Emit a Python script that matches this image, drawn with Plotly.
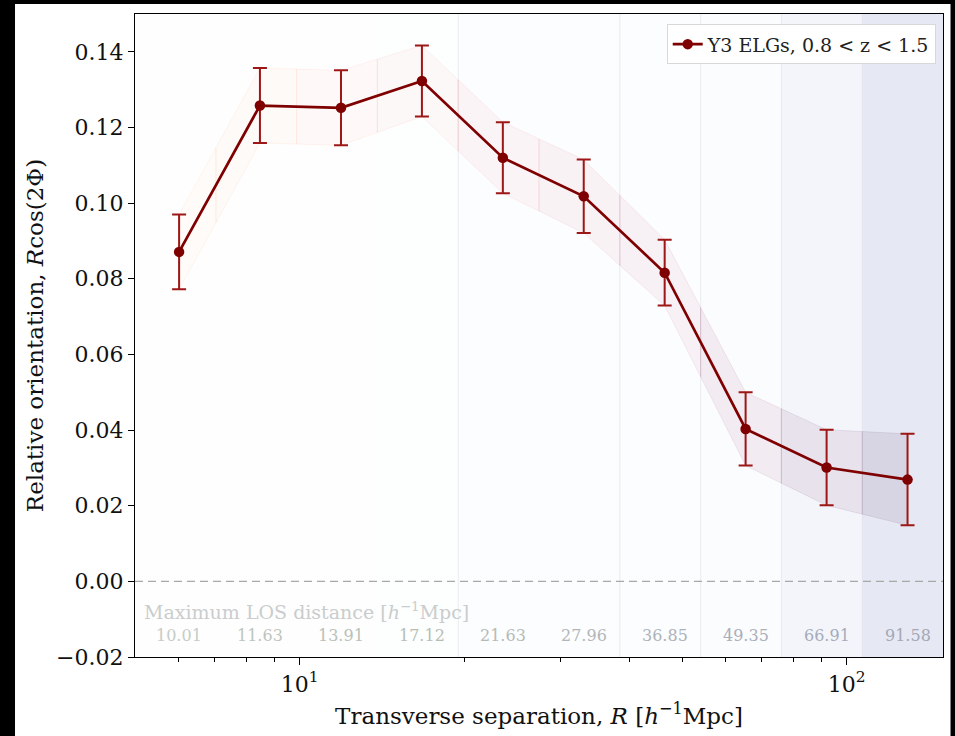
import numpy as np
import plotly.graph_objects as go

# ---- data ----
R = [6.02, 8.46, 11.90, 16.73, 23.52, 33.06, 46.48, 65.35, 91.9, 129.2]
xi = [0.0871, 0.1258, 0.1252, 0.1323, 0.1120, 0.1018, 0.0816, 0.0403, 0.0301, 0.0269]
err = [0.0099, 0.0099, 0.0099, 0.0094, 0.0094, 0.0097, 0.0087, 0.0097, 0.0100, 0.0121]
los_max = ["10.01", "11.63", "13.91", "17.12", "21.63", "27.96", "36.85", "49.35", "66.91", "91.58"]
bin_edges = [5.0, 7.03, 9.87, 13.87, 19.49, 27.39, 38.49, 54.08, 75.98, 106.8, 150.0]
y_ticks = [-0.02, 0.0, 0.02, 0.04, 0.06, 0.08, 0.10, 0.12, 0.14]

# ---- styles ----
bg_colors = ["#fefefe", "#fefefe", "#fefefe", "#fdfefe", "#fcfdfe", "#fcfdfe",
             "#fcfdfe", "#fbfcfe", "#f3f5fb", "#e6e9f3"]
# faint separators drawn on the left edge of these bins
bg_edge_on = [False, False, False, False, True, False, True, True, True, True]
bg_edge = "rgba(205,210,220,0.4)"
band_fill = ["rgba(254,180,120,0.035)", "rgba(252,160,110,0.04)", "rgba(250,150,120,0.045)",
             "rgba(245,130,120,0.05)", "rgba(230,110,125,0.06)", "rgba(210,90,125,0.065)",
             "rgba(185,70,120,0.07)", "rgba(150,55,110,0.085)", "rgba(115,45,100,0.095)",
             "rgba(90,35,90,0.10)"]
band_line = ["rgba(254,170,100,0.12)", "rgba(252,150,100,0.12)", "rgba(250,140,110,0.12)",
             "rgba(245,120,110,0.12)", "rgba(230,100,115,0.12)", "rgba(210,80,120,0.12)",
             "rgba(180,60,120,0.12)", "rgba(150,50,110,0.12)", "rgba(110,40,100,0.12)",
             "rgba(90,30,90,0.12)"]
los_colors = ["#c6ccc6", "#bdc5bd", "#b9c1b9", "#b6beb6", "#b6bab7", "#b2b6b9",
              "#adb2ba", "#aaafba", "#a6abba", "#a4a8b6"]
FONT = "DejaVu Serif"

fig = go.Figure()

YMIN, YMAX = -0.02, 0.15

# background bins
for k in range(len(bin_edges) - 1):
    e0, e1 = bin_edges[k], bin_edges[k + 1]
    fig.add_trace(go.Scatter(
        x=[e0, e0, e1, e1, e0], y=[YMIN, YMAX, YMAX, YMIN, YMIN],
        mode="none", fill="toself", fillcolor=bg_colors[k],
        hoverinfo="skip", showlegend=False))
for k in range(len(bin_edges) - 1):
    if bg_edge_on[k]:
        fig.add_trace(go.Scatter(
            x=[bin_edges[k], bin_edges[k]], y=[YMIN, YMAX], mode="lines",
            line=dict(color=bg_edge, width=1), hoverinfo="skip", showlegend=False))

# zero line
fig.add_trace(go.Scatter(x=[bin_edges[0], bin_edges[-1]], y=[0, 0], mode="lines",
                         line=dict(color="#a8a8a8", width=1.3, dash="8px,5px"),
                         hoverinfo="skip", showlegend=False))

# error band, split by bin
logR = np.log10(R)
lo = np.array(xi) - np.array(err)
hi = np.array(xi) + np.array(err)
for k in range(len(bin_edges) - 1):
    a = max(bin_edges[k], R[0])
    b = min(bin_edges[k + 1], R[-1])
    if b <= a:
        continue
    inner = [r for r in R if a < r < b]
    xs = [a] + inner + [b]
    lx = np.log10(xs)
    up = np.interp(lx, logR, hi)
    dn = np.interp(lx, logR, lo)
    px = list(xs) + list(xs[::-1]) + [xs[0]]
    py = list(up) + list(dn[::-1]) + [up[0]]
    fig.add_trace(go.Scatter(x=px, y=py, mode="lines", fill="toself",
                             fillcolor=band_fill[k],
                             line=dict(color=band_line[k], width=0.8),
                             hoverinfo="skip", showlegend=False))

# main series
fig.add_trace(go.Scatter(
    x=R, y=xi, mode="lines+markers", name="Y3 ELGs, 0.8 &lt; z &lt; 1.5",
    line=dict(color="#7f0000", width=2.7),
    marker=dict(color="#7f0000", size=10.5),
    error_y=dict(type="data", array=err, visible=True, color="#9e1717",
                 thickness=2, width=7)))

# LOS labels
annotations = []
for r, t, c in zip(R, los_max, los_colors):
    annotations.append(dict(x=np.log10(r), y=-0.0144, xref="x", yref="y", text=t,
                            showarrow=False, font=dict(family=FONT, size=16, color=c),
                            xanchor="center", yanchor="middle"))
annotations.append(dict(x=0.0085, y=-0.0078, xref="paper", yref="y",
                        text="Maximum LOS distance [<i>h</i><sup>−1</sup>Mpc]",
                        showarrow=False, font=dict(family=FONT, size=19, color="#c9cdcd"),
                        xanchor="left", yanchor="middle"))

shapes = [dict(type="rect", xref="paper", yref="paper", x0=-0.1485, x1=1.0093,
               y0=-0.13, y1=1.0156, fillcolor="white", line=dict(width=0), layer="below")]

fig.update_layout(
    width=955, height=736,
    margin=dict(l=135, r=12, t=14, b=79),
    paper_bgcolor="black", plot_bgcolor="white",
    font=dict(family=FONT, size=22, color="#111111"),
    shapes=shapes, annotations=annotations,
    legend=dict(x=0.991, y=0.984, xanchor="right", yanchor="top",
                bgcolor="white", bordercolor="#d8d8d8", borderwidth=1,
                font=dict(family=FONT, size=19, color="#222222")),
    showlegend=True,
)
fig.update_xaxes(
    type="log", range=[np.log10(bin_edges[0]), np.log10(bin_edges[-1])],
    tickvals=[10, 100], ticktext=["10<sup>1</sup>", "10<sup>2</sup>"],
    ticks="outside", ticklen=7, tickwidth=1.2, tickcolor="black",
    minor=dict(tickvals=[6, 7, 8, 9, 20, 30, 40, 50, 60, 70, 80, 90],
               ticks="outside", ticklen=4, tickwidth=1, tickcolor="black"),
    showline=True, linecolor="black", linewidth=1.2, mirror=True,
    showgrid=False, zeroline=False,
    title=dict(text="Transverse separation, <i>R</i> [<i>h</i><sup>−1</sup>Mpc]",
               font=dict(size=23), standoff=12),
    tickfont=dict(size=22),
)
fig.update_yaxes(
    range=[YMIN, YMAX], tickvals=y_ticks, tickformat=".2f",
    ticks="outside", ticklen=6, tickwidth=1.2, tickcolor="black",
    showline=True, linecolor="black", linewidth=1.2, mirror=True,
    showgrid=False, zeroline=False,
    title=dict(text="Relative orientation, <i>R</i>cos(2Φ)", font=dict(size=23), standoff=6),
    tickfont=dict(size=22),
)

fig.write_html("out.html")
